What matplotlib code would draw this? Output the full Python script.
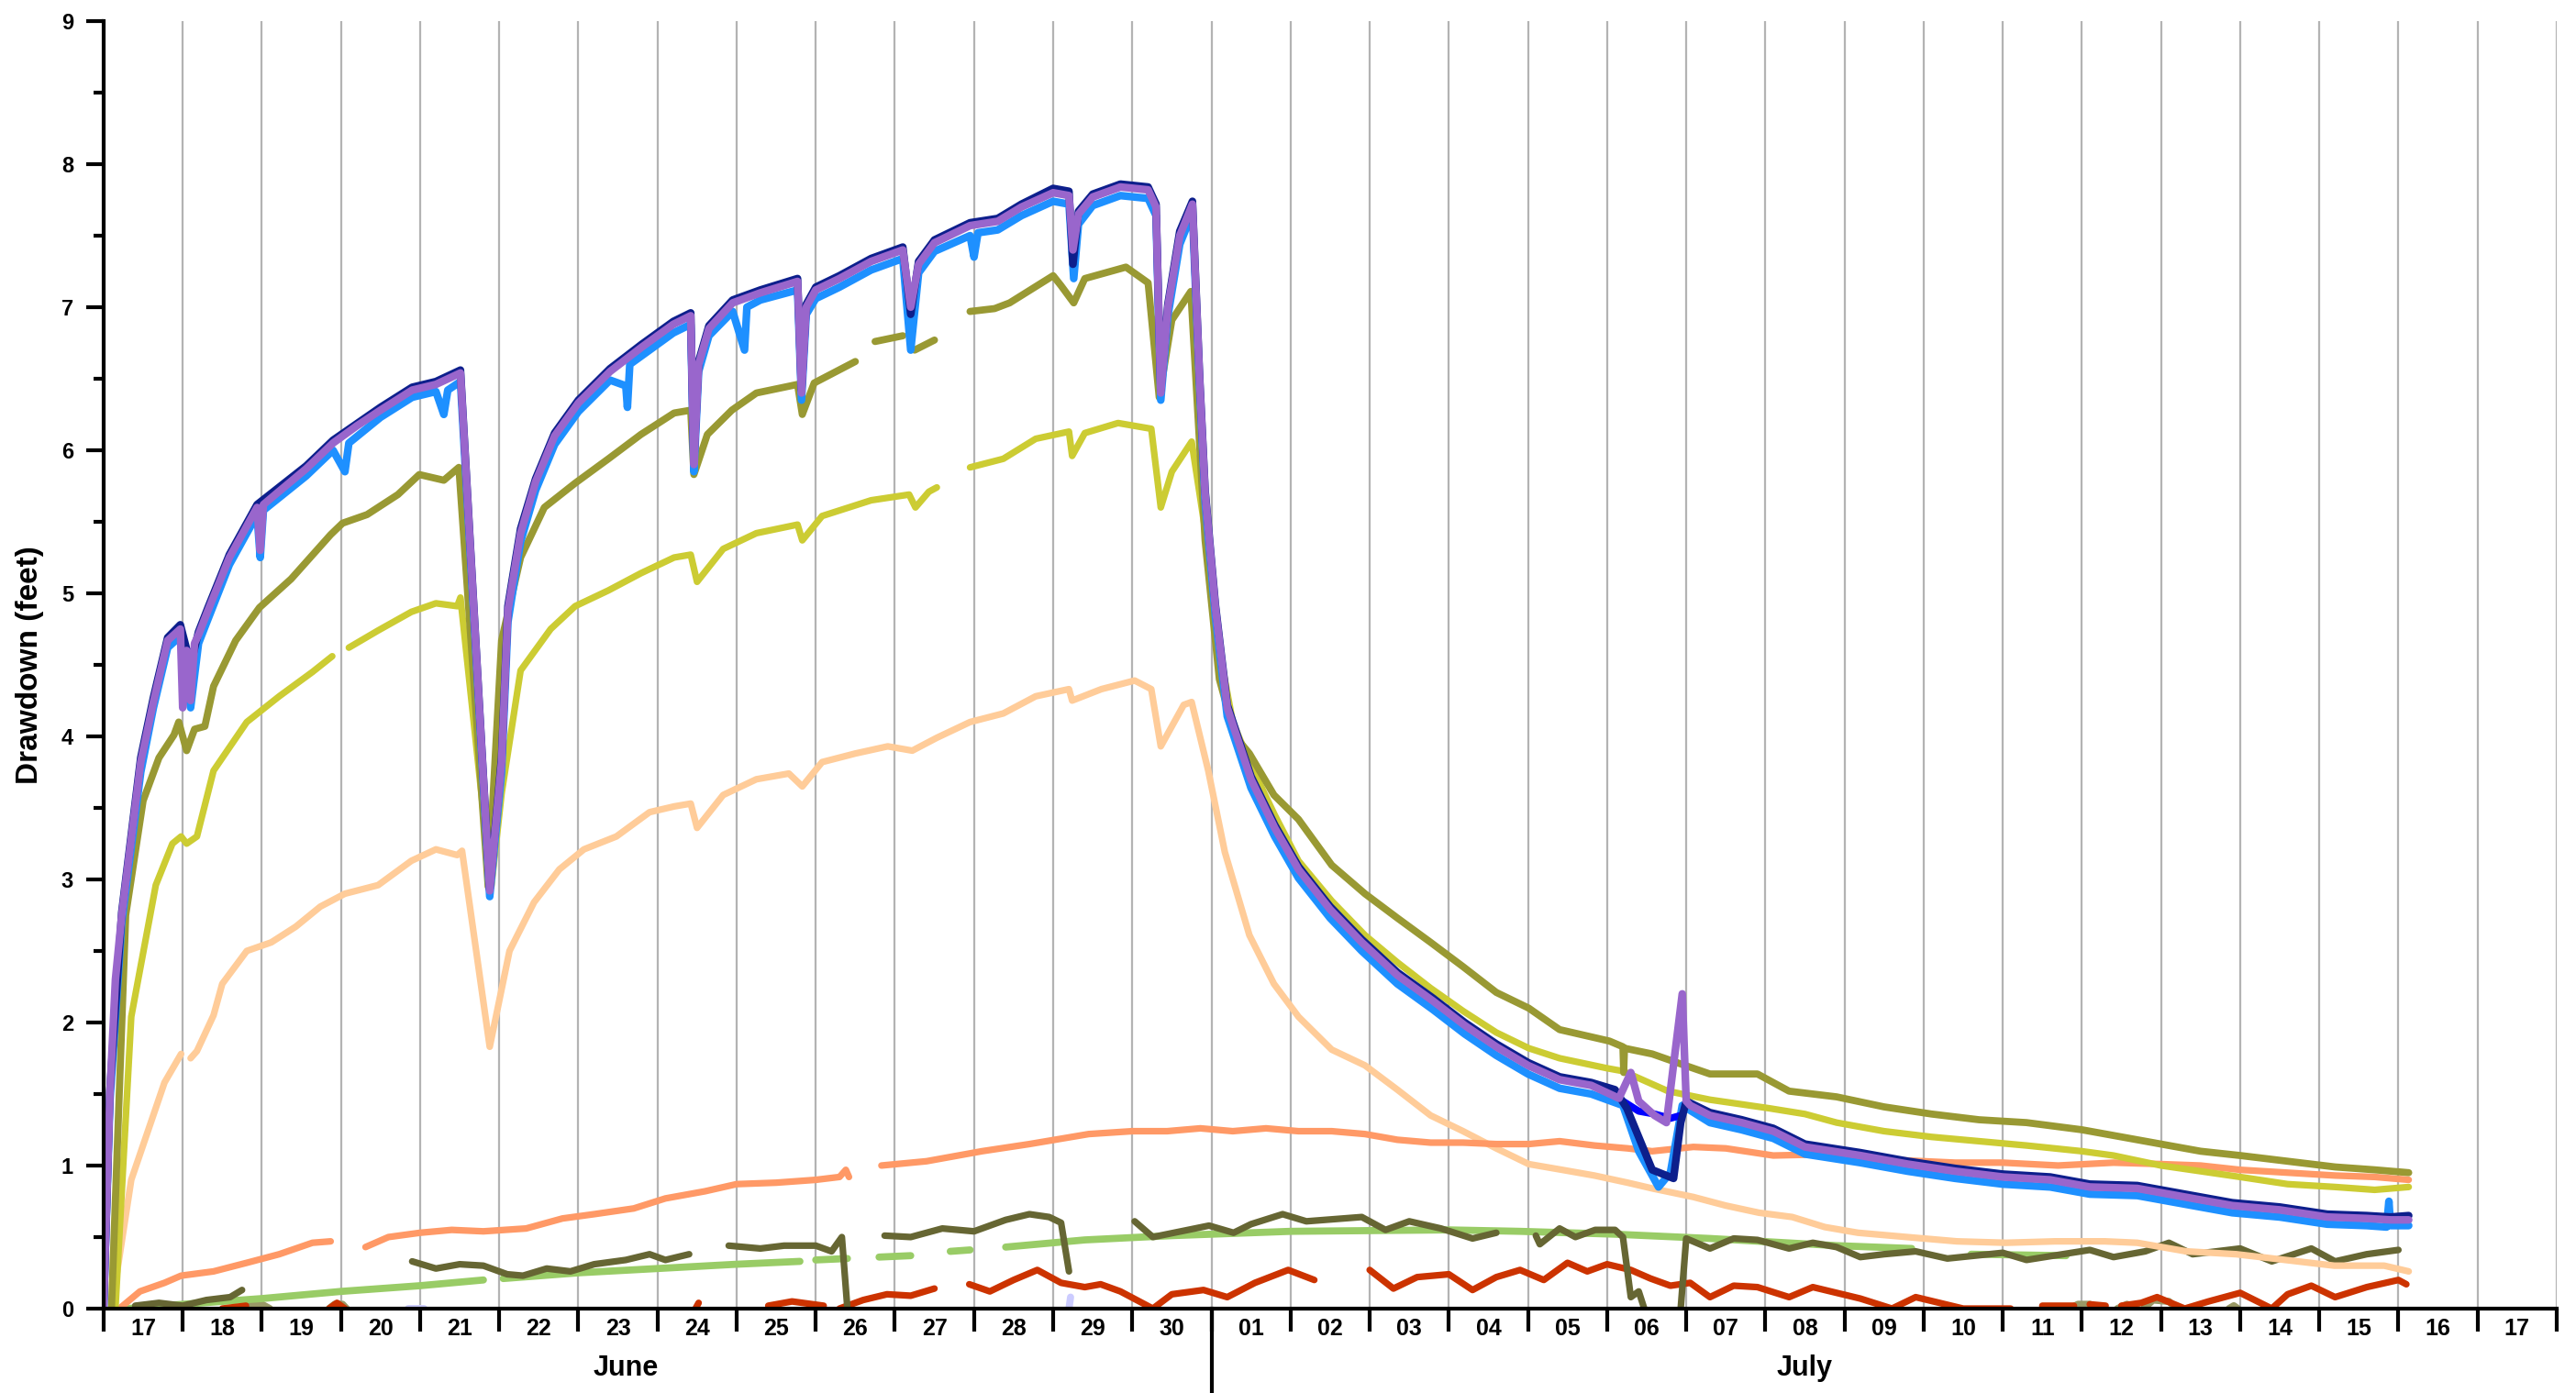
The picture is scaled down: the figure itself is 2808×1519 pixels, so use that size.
import numpy as np
import matplotlib
matplotlib.use('Agg')
import matplotlib.pyplot as plt
from matplotlib.ticker import MultipleLocator, FixedLocator, NullFormatter

nan = np.nan

# time = days since June 17 00:00, drawdown in feet
day_labels = ['17', '18', '19', '20', '21', '22', '23', '24', '25', '26', '27', '28', '29', '30',
              '01', '02', '03', '04', '05', '06', '07', '08', '09', '10', '11', '12', '13', '14',
              '15', '16', '17']
month_labels = ['June', 'July']
month_pos = [6.6, 21.5]

purple_t = [0.0, 0.08, 0.15, 0.23, 0.47, 0.63, 0.81, 0.97, 1.0, 1.05, 1.1, 1.15, 1.2, 1.32, 1.59, 1.94,
            1.98, 2.02, 2.17, 2.56, 2.9, 3.2, 3.5, 3.9, 4.2, 4.51, 4.88, 5.03, 5.11, 5.27, 5.46, 5.7,
            6.0, 6.4, 6.8, 7.2, 7.42, 7.46, 7.52, 7.65, 7.95, 8.3, 8.77, 8.82, 8.88, 9.0, 9.3, 9.7,
            10.1, 10.2, 10.3, 10.5, 10.95, 11.3, 11.6, 12.0, 12.2, 12.25, 12.32, 12.5, 12.85, 13.2,
            13.3, 13.36, 13.45, 13.6, 13.76, 13.85, 13.92, 14.05, 14.2, 14.5, 14.8, 15.1, 15.5, 15.9,
            16.35, 16.8, 17.2, 17.6, 18.0, 18.4, 18.8, 19.15, 19.3, 19.4, 19.6, 19.75, 19.95, 20.0,
            20.05, 20.3, 20.7, 21.1, 21.5, 22.2, 22.8, 23.4, 24.0, 24.6, 25.1, 25.7, 26.3, 26.9, 27.5,
            28.1, 28.6, 28.9, 29.13]
purple_y = [0.0, 1.5, 2.3, 2.75, 3.82, 4.24, 4.67, 4.75, 4.2, 4.6, 4.25, 4.65, 4.71, 4.88, 5.25, 5.6,
            5.3, 5.62, 5.69, 5.87, 6.05, 6.17, 6.28, 6.42, 6.46, 6.54, 2.92, 3.82, 4.88, 5.42, 5.78, 6.1,
            6.33, 6.55, 6.72, 6.88, 6.94, 5.9, 6.6, 6.85, 7.03, 7.1, 7.18, 6.4, 7.0, 7.12, 7.2, 7.32,
            7.4, 7.0, 7.3, 7.45, 7.57, 7.6, 7.7, 7.8, 7.78, 7.4, 7.65, 7.77, 7.84, 7.82,
            7.7, 6.4, 7.0, 7.5, 7.72, 6.5, 5.7, 4.9, 4.2, 3.7, 3.36, 3.07, 2.79, 2.56,
            2.33, 2.15, 1.98, 1.83, 1.7, 1.6, 1.56, 1.47, 1.65, 1.45, 1.35, 1.3, 2.2, 1.45,
            1.42, 1.35, 1.3, 1.24, 1.13, 1.07, 1.01, 0.96, 0.92, 0.9, 0.85, 0.84, 0.78, 0.72, 0.69,
            0.64, 0.63, 0.62, 0.62]

navy_t = [0.0, 0.08, 0.23, 0.47, 0.63, 0.81, 0.97, 1.1, 1.2, 1.32, 1.59, 1.94, 2.56, 2.9, 3.5, 3.9,
          4.2, 4.51, 4.88, 5.03, 5.11, 5.27, 5.46, 5.7, 6.0, 6.4, 6.8, 7.2, 7.42, 7.46, 7.52, 7.65,
          7.95, 8.3, 8.77, 8.82, 8.88, 9.0, 9.3, 9.7, 10.1, 10.2, 10.3, 10.5, 10.95, 11.3, 11.6, 12.0,
          12.2, 12.25, 12.32, 12.5, 12.85, 13.2, 13.3, 13.36, 13.45, 13.6, 13.76, 13.85, 13.92, 14.05,
          14.2, 14.5, 14.8, 15.1, 15.5, 15.9, 16.35, 16.8, 17.2, 17.6, 18.0, 18.4, 18.8, 19.1, 19.25,
          19.57, 19.84, 19.93, 20.0, 20.3, 20.7, 21.1, 21.5, 22.2, 22.8, 23.4, 24.0, 24.6, 25.1, 25.7,
          26.3, 26.9, 27.5, 28.1, 28.6, 28.9, 29.13]
navy_y = [0.0, 1.52, 2.77, 3.85, 4.27, 4.69, 4.78, 4.5, 4.73, 4.9, 5.27, 5.62, 5.89, 6.07, 6.3, 6.44,
          6.48, 6.56, 2.93, 3.85, 4.91, 5.45, 5.8, 6.12, 6.35, 6.57, 6.74, 6.9, 6.96, 5.92, 6.62, 6.87,
          7.05, 7.12, 7.2, 6.42, 7.02, 7.14, 7.22, 7.34, 7.42, 6.95, 7.32, 7.47, 7.59, 7.62, 7.72, 7.83,
          7.81, 7.3, 7.67, 7.79, 7.86, 7.84, 7.72, 6.42, 7.02, 7.53, 7.74, 6.52, 5.72, 4.92,
          4.22, 3.72, 3.38, 3.09, 2.81, 2.58, 2.35, 2.17, 2.0, 1.85, 1.72, 1.62, 1.58, 1.53, 1.4,
          0.97, 0.91, 1.3, 1.45, 1.37, 1.32, 1.26, 1.15, 1.09, 1.03, 0.98, 0.94, 0.92, 0.87, 0.86,
          0.8, 0.74, 0.71, 0.66, 0.65, 0.64, 0.65]

lightblue_t = [0.0, 0.08, 0.23, 0.47, 0.63, 0.81, 0.97, 1.1, 1.2, 1.32, 1.59, 1.94, 1.98, 2.02, 2.56,
               2.9, 3.05, 3.1, 3.5, 3.9, 4.2, 4.3, 4.35, 4.51, 4.88, 5.03, 5.11, 5.27, 5.46, 5.7, 6.0,
               6.4, 6.6, 6.62, 6.65, 6.8, 7.2, 7.42, 7.46, 7.52, 7.65, 7.95, 8.1, 8.13, 8.3, 8.77, 8.82,
               8.88, 9.0, 9.3, 9.7, 10.1, 10.2, 10.3, 10.5, 10.95, 11.0, 11.05, 11.3, 11.6, 12.0, 12.2,
               12.26, 12.32, 12.5, 12.85, 13.2, 13.3, 13.36, 13.45, 13.6, 13.76, 13.85, 13.92, 14.05,
               14.2, 14.5, 14.8, 15.1, 15.5, 15.9, 16.35, 16.8, 17.2, 17.6, 18.0, 18.4, 18.8, 19.2,
               19.4, 19.65, 19.8, 19.95, 20.3, 20.7, 21.1, 21.5, 22.2, 22.8, 23.4, 24.0, 24.6, 25.1,
               25.7, 26.3, 26.9, 27.5, 28.1, 28.6, 28.85, 28.88, 28.9, 29.13]
lightblue_y = [0.0, 1.45, 2.7, 3.75, 4.2, 4.62, 4.7, 4.2, 4.65, 4.82, 5.2, 5.55, 5.25, 5.58, 5.82,
               6.0, 5.85, 6.05, 6.23, 6.37, 6.41, 6.25, 6.42, 6.48, 2.88, 3.75, 4.8, 5.36, 5.72, 6.04,
               6.27, 6.49, 6.45, 6.3, 6.6, 6.66, 6.82, 6.88, 5.85, 6.55, 6.8, 6.97, 6.7, 7.0, 7.05,
               7.12, 6.35, 6.95, 7.06, 7.14, 7.26, 7.34, 6.7, 7.24, 7.39, 7.5, 7.35, 7.52, 7.54, 7.64,
               7.74, 7.72, 7.2, 7.58, 7.71, 7.78, 7.76, 7.64, 6.35, 6.94, 7.44, 7.66, 6.45, 5.64, 4.84,
               4.14, 3.64, 3.3, 3.01, 2.73, 2.5, 2.27, 2.09, 1.92, 1.77, 1.64, 1.54, 1.5, 1.42,
               1.1, 0.85, 0.95, 1.42, 1.3, 1.25, 1.19, 1.08, 1.02, 0.96, 0.91, 0.87, 0.85, 0.8,
               0.79, 0.73, 0.67, 0.64, 0.59, 0.58, 0.57, 0.75, 0.58, 0.58]

blue_t = [19.2, 19.4, 19.6, 19.8, 19.93]
blue_y = [1.45, 1.38, 1.36, 1.33, 1.35]

olive_t = [0.1, 0.28, 0.5, 0.7, 0.89, 0.95, 1.05, 1.15, 1.28, 1.39, 1.67, 1.97, 2.37, 2.87, 3.02, 3.33,
           3.72, 3.99, 4.3, 4.49, 4.86, 5.03, 5.27, 5.57, 5.96, 6.38, 6.79, 7.21, 7.42, 7.46, 7.63,
           7.94, 8.25, 8.77, 8.83, 8.98, 9.5, nan, 9.75, 10.1, nan, 10.25, 10.5, nan, 10.95, 11.26,
           11.45, 12.0, 12.1, 12.26, 12.4, 12.92, 13.2, 13.34, 13.5, 13.74, 13.92, 14.1, 14.3, 14.48,
           14.79, 15.1, 15.52, 15.94, 16.35, 16.77, 17.18, 17.6, 18.01, 18.4, 19.03, 19.2, 19.21,
           19.22, 19.57, 19.88, 20.3, 20.9, 21.3, 21.9, 22.5, 23.1, 23.7, 24.3, 25.0, 25.4, 26.0,
           26.5, 27.0, 27.6, 28.2, 28.7, 29.13]
olive_y = [0.0, 2.75, 3.55, 3.85, 4.01, 4.1, 3.9, 4.05, 4.07, 4.35, 4.67, 4.9, 5.1, 5.41, 5.49, 5.55,
           5.69, 5.83, 5.79, 5.88, 2.95, 4.67, 5.25, 5.6, 5.77, 5.94, 6.11, 6.26, 6.28, 5.83, 6.11,
           6.28, 6.4, 6.46, 6.25, 6.47, 6.62, nan, 6.76, 6.8, nan, 6.7, 6.77, nan, 6.97, 6.99,
           7.03, 7.22, 7.15, 7.03, 7.2, 7.28, 7.17, 6.37, 6.91, 7.11, 5.37, 4.4, 4.0, 3.88,
           3.59, 3.42, 3.1, 2.9, 2.73, 2.56, 2.39, 2.21, 2.1, 1.95, 1.87, 1.83, 1.65,
           1.82, 1.78, 1.72, 1.64, 1.64, 1.52, 1.48, 1.41, 1.36, 1.32, 1.3, 1.25, 1.21, 1.15,
           1.1, 1.07, 1.03, 0.99, 0.97, 0.95]

yellow_t = [0.15, 0.35, 0.66, 0.87, 0.98, 1.05, 1.18, 1.39, 1.81, 2.22, 2.64, 2.89, nan, 3.1, 3.47,
            3.89, 4.2, 4.47, 4.51, 4.9, 5.03, 5.27, 5.65, 5.96, 6.38, 6.79, 7.21, 7.42, 7.5, 7.83,
            8.25, 8.77, 8.83, 9.08, 9.7, 10.18, 10.26, 10.43, 10.53, nan, 10.95, 11.37, 11.78, 12.2,
            12.24, 12.4, 12.82, 13.24, 13.36, 13.5, 13.75, 13.96, 14.1, 14.27, 14.48, 14.8, 15.1,
            15.52, 15.94, 16.35, 16.77, 17.18, 17.6, 18.01, 18.4, 19.0, 19.2, 19.77, 20.3, 21.05,
            21.5, 21.9, 22.5, 23.1, 23.7, 24.3, 25.0, 25.4, 26.0, 26.5, 27.0, 27.6, 28.2, 28.7, 29.13]
yellow_y = [0.0, 2.04, 2.96, 3.25, 3.3, 3.25, 3.3, 3.76, 4.1, 4.28, 4.45, 4.56, nan, 4.62, 4.74,
            4.87, 4.93, 4.91, 4.97, 2.95, 3.6, 4.46, 4.75, 4.91, 5.02, 5.14, 5.25, 5.27, 5.08, 5.31,
            5.42, 5.48, 5.37, 5.54, 5.65, 5.69, 5.6, 5.71, 5.74, nan, 5.88, 5.94, 6.08, 6.13,
            5.96, 6.12, 6.19, 6.15, 5.6, 5.85, 6.06, 5.3, 4.6, 4.1, 3.82, 3.45, 3.13,
            2.85, 2.61, 2.42, 2.24, 2.08, 1.93, 1.82, 1.75, 1.68, 1.66, 1.52, 1.46, 1.4,
            1.36, 1.3, 1.24, 1.2, 1.17, 1.14, 1.1, 1.07, 1.0, 0.96, 0.92, 0.87, 0.85, 0.83, 0.85]

peach_t = [0.1, 0.35, 0.56, 0.77, 0.98, nan, 1.1, 1.18, 1.39, 1.5, 1.81, 2.12, 2.43, 2.74, 3.05,
           3.47, 3.89, 4.2, 4.47, 4.53, 4.88, 5.13, 5.44, 5.76, 6.07, 6.48, 6.9, 7.21, 7.42, 7.5,
           7.83, 8.25, 8.66, 8.83, 9.08, 9.5, 9.91, 10.22, 10.53, 10.95, 11.37, 11.78, 12.2, 12.24,
           12.61, 13.03, 13.24, 13.36, 13.65, 13.75, 13.96, 14.17, 14.48, 14.79, 15.1, 15.52, 15.94,
           16.35, 16.77, 17.18, 17.6, 18.01, 18.43, 18.84, 19.26, 19.57, 20.09, 20.5, 20.92, 21.34,
           21.75, 22.17, 22.79, 23.42, 24.04, 24.66, 25.29, 25.7, 26.32, 26.95, 27.57, 28.19, 28.82,
           29.13]
peach_y = [0.0, 0.9, 1.24, 1.58, 1.78, nan, 1.75, 1.8, 2.05, 2.27, 2.5, 2.56, 2.67, 2.81, 2.9,
           2.96, 3.13, 3.21, 3.17, 3.2, 1.83, 2.5, 2.84, 3.07, 3.21, 3.3, 3.47, 3.51, 3.53, 3.36,
           3.59, 3.7, 3.74, 3.65, 3.82, 3.88, 3.93, 3.9, 3.99, 4.1, 4.16, 4.28, 4.33, 4.25,
           4.33, 4.39, 4.33, 3.93, 4.22, 4.24, 3.76, 3.19, 2.61, 2.27, 2.04, 1.81, 1.7,
           1.53, 1.35, 1.24, 1.12, 1.01, 0.97, 0.93, 0.88, 0.84, 0.78, 0.72, 0.67, 0.64,
           0.57, 0.53, 0.5, 0.47, 0.46, 0.47, 0.47, 0.46, 0.4, 0.38, 0.34, 0.3, 0.3,
           0.26]

salmon_t = [0.2, 0.46, 0.77, 0.98, 1.39, 1.81, 2.22, 2.64, 2.87, nan, 3.31, 3.6, 4.0, 4.4, 4.8, 5.34,
            5.8, 6.2, 6.7, 7.1, 7.6, 8.0, 8.5, 9.0, 9.3, 9.38, 9.42, nan, 9.83, 10.4, 11.1, 11.7,
            12.45, 13.0, 13.44, 13.86, 14.27, 14.69, 15.1, 15.52, 15.94, 16.35, 16.77, 17.18, 17.6,
            18.01, 18.4, 18.84, 19.26, 19.57, 20.09, 20.5, 21.1, 21.9, 22.6, 23.4, 24.0, 24.7, 25.4,
            26.0, 26.5, 27.0, 27.6, 28.2, 28.7, 29.13]
salmon_y = [0.0, 0.12, 0.18, 0.23, 0.26, 0.32, 0.38, 0.46, 0.47, nan, 0.43, 0.5, 0.53, 0.55, 0.54, 0.56,
            0.63, 0.66, 0.7, 0.77, 0.82, 0.87, 0.88, 0.9, 0.92, 0.97, 0.92, nan, 1.0, 1.03, 1.1, 1.15,
            1.22, 1.24, 1.24, 1.26, 1.24, 1.26, 1.24, 1.24, 1.22, 1.18, 1.16, 1.16, 1.15,
            1.15, 1.17, 1.14, 1.12, 1.1, 1.13, 1.12, 1.07, 1.08, 1.04, 1.02, 1.02, 1.0, 1.02,
            1.01, 1.0, 0.97, 0.95, 0.93, 0.92, 0.9]

darkolive_t = [0.4, 0.7, 1.0, 1.3, 1.6, 1.75, nan, 3.9, 4.2, 4.5, 4.8, 5.1, 5.3, 5.6, 5.9, 6.2, 6.6,
               6.9, 7.1, 7.4, nan, 7.9, 8.3, 8.6, 9.0, 9.2, 9.33, 9.4, nan, 9.87, 10.2, 10.6, 11.0,
               11.4, 11.7, 11.95, 12.1, 12.2, nan, 13.03, 13.26, 13.97, 14.28, 14.5, 14.9, 15.2, 15.9,
               16.2, 16.5, 16.9, 17.3, 17.6, nan, 18.1, 18.15, 18.4, 18.6, 18.85, 19.1, 19.2, 19.3,
               19.4, 19.47, nan, 19.93, 20.0, 20.3, 20.6, 20.9, 21.3, 21.6, 21.9, 22.2, 22.5, 22.9,
               23.3, 24.0, 24.3, 25.1, 25.4, 25.8, 26.1, 26.4, 27.0, 27.4, 27.9, 28.2, 28.6, 29.0]
darkolive_y = [0.02, 0.04, 0.02, 0.06, 0.08, 0.13, nan, 0.33, 0.28, 0.31, 0.3, 0.24, 0.23, 0.28, 0.26,
               0.31, 0.34, 0.38, 0.34, 0.38, nan, 0.44, 0.42, 0.44, 0.44, 0.4, 0.5, 0.0, nan, 0.51,
               0.5, 0.56, 0.54, 0.62, 0.66, 0.64, 0.6, 0.26, nan, 0.61, 0.5, 0.58, 0.53, 0.59, 0.66,
               0.61, 0.64, 0.55, 0.61, 0.56, 0.49, 0.53, nan, 0.51, 0.45, 0.56, 0.5, 0.55, 0.55, 0.5,
               0.08, 0.12, 0.0, nan, 0.0, 0.49, 0.42, 0.49, 0.48, 0.42, 0.46, 0.43, 0.36, 0.38, 0.4,
               0.35, 0.39, 0.34, 0.41, 0.36, 0.4, 0.46, 0.38, 0.42, 0.33, 0.42, 0.33, 0.38, 0.41]

green_t = [0.3, 1.0, 2.0, 3.0, 4.0, 4.8, nan, 5.05, 6.0, 7.0, 8.0, 8.8, nan, 9.0, 9.4, nan, 9.8, 10.2,
           nan, 10.7, 10.95, nan, 11.4, 12.4, 13.5, 15.0, 17.0, 17.9, 19.1, 20.3, 21.9, 22.85, nan,
           23.6, 24.8]
green_y = [0.0, 0.03, 0.07, 0.12, 0.16, 0.2, nan, 0.21, 0.25, 0.28, 0.31, 0.33, nan, 0.34, 0.35, nan,
           0.36, 0.37, nan, 0.4, 0.41, nan, 0.43, 0.48, 0.51, 0.54, 0.55, 0.54, 0.52, 0.49, 0.44, 0.42,
           nan, 0.38, 0.37]

red_t = [1.5, 1.8, nan, 2.85, 2.95, 3.05, nan, 7.48, 7.52, nan, 8.4, 8.7, 9.1, nan, 9.3, 9.6, 9.9,
         10.2, 10.5, nan, 10.94, 11.2, 11.5, 11.8, 12.1, 12.4, 12.6, 12.85, 13.26, 13.5, 13.9, 14.2,
         14.55, 14.97, 15.3, nan, 16.0, 16.3, 16.6, 17.0, 17.3, 17.6, 17.9, 18.2, 18.5, 18.75, 19.0,
         19.3, 19.55, 19.8, 20.05, 20.3, 20.6, 20.9, 21.3, 21.6, 21.9, 22.2, 22.6, 22.9, 23.5, 24.1,
         nan, 24.5, 24.9, nan, 25.1, 25.3, nan, 25.5, 25.75, 25.95, 26.3, 26.6, 27.0, 27.4, 27.6,
         27.9, 28.2, 28.6, 29.0, 29.1]
red_y = [0.0, 0.02, nan, 0.0, 0.04, 0.0, nan, 0.0, 0.04, nan, 0.02, 0.05, 0.02, nan, 0.0, 0.06, 0.1,
         0.09, 0.14, nan, 0.17, 0.12, 0.2, 0.27, 0.18, 0.15, 0.17, 0.12, 0.0, 0.1, 0.13, 0.08,
         0.18, 0.27, 0.2, nan, 0.27, 0.14, 0.22, 0.24, 0.13, 0.22, 0.27, 0.2, 0.32, 0.26, 0.31,
         0.27, 0.21, 0.16, 0.18, 0.08, 0.16, 0.15, 0.08, 0.15, 0.11, 0.07, 0.0, 0.08, 0.0, 0.0,
         nan, 0.02, 0.02, nan, 0.03, 0.02, nan, 0.02, 0.04, 0.08, 0.0, 0.05, 0.11, 0.0, 0.1,
         0.16, 0.08, 0.15, 0.2, 0.17]

khaki_t = [1.77, 1.85, 2.0, 2.1, nan, 2.85, 2.92, 3.02, 3.07, nan, 24.85, 24.95, 25.1, 25.15, nan,
           25.45, 25.57, 25.7, nan, 25.78, 25.9, 26.1, 26.2, nan, 26.86, 26.92, 26.97]
khaki_y = [0.0, 0.03, 0.03, 0.0, nan, 0.0, 0.03, 0.03, 0.0, nan, 0.0, 0.03, 0.03, 0.0, nan,
           0.0, 0.03, 0.0, nan, 0.0, 0.06, 0.05, 0.0, nan, 0.0, 0.02, 0.0]

lavender_t = [3.85, 4.05, nan, 12.2, 12.22]
lavender_y = [0.0, 0.0, nan, 0.0, 0.08]

plt.rcParams['font.family'] = ['Liberation Sans', 'DejaVu Sans']

fig = plt.figure(figsize=(14.04, 7.595), dpi=200)
ax = fig.add_axes([0.0402, 0.0606, 0.9523, 0.9243])


def draw(t, y, color, lw):
    ax.plot(t, y, color=color, lw=lw, solid_capstyle='round', solid_joinstyle='round', zorder=3)


draw(lavender_t, lavender_y, '#ccccff', 2.8)
draw(khaki_t, khaki_y, '#999966', 2.8)
draw(green_t, green_y, '#99cc66', 2.8)
draw(red_t, red_y, '#cc3300', 2.6)
draw(darkolive_t, darkolive_y, '#666633', 2.6)
draw(peach_t, peach_y, '#ffcc99', 2.6)
draw(salmon_t, salmon_y, '#ff9966', 2.6)
draw(yellow_t, yellow_y, '#cccc33', 2.6)
draw(olive_t, olive_y, '#999933', 2.8)
draw(lightblue_t, lightblue_y, '#1e90ff', 3.0)
draw(blue_t, blue_y, '#0000ff', 2.8)
draw(navy_t, navy_y, '#0d1f8c', 3.0)
draw(purple_t, purple_y, '#9966cc', 3.0)

ax.set_xlim(0, 31)
ax.set_ylim(0, 9)

ax.spines['top'].set_visible(False)
ax.spines['right'].set_visible(False)
for s in ['left', 'bottom']:
    ax.spines[s].set_linewidth(1.5)
    ax.spines[s].set_zorder(5)

ax.yaxis.set_major_locator(MultipleLocator(1))
ax.yaxis.set_minor_locator(MultipleLocator(0.5))
ax.tick_params(axis='y', which='major', length=6.8, width=1.5, pad=5, labelsize=8.5)
ax.tick_params(axis='y', which='minor', length=4, width=1.5)
for lab in ax.get_yticklabels():
    lab.set_fontweight('bold')

ax.xaxis.set_major_locator(FixedLocator(np.arange(0, 32)))
ax.xaxis.set_major_formatter(NullFormatter())
ax.xaxis.set_minor_locator(FixedLocator(np.arange(0.5, 31, 1.0)))
ax.set_xticklabels(day_labels, minor=True, fontweight='bold')
ax.tick_params(axis='x', which='major', length=9, width=1.5, direction='out')
ax.tick_params(axis='x', which='minor', length=0, pad=3.5, labelsize=9)

ax.grid(axis='x', which='major', color='#b3b3b3', lw=0.8, zorder=0)

# month divider between June 30 and July 01
ax.plot([14, 14], [0, -0.066], transform=ax.get_xaxis_transform(), color='black', lw=1.5,
        clip_on=False)
for pos, name in zip(month_pos, month_labels):
    ax.text(pos, -0.046, name, transform=ax.get_xaxis_transform(), ha='center', va='center',
            fontsize=11, fontweight='bold')

fig.text(0.0114, 0.5227, 'Drawdown (feet)', rotation=90, ha='center', va='center',
         fontsize=12, fontweight='bold')

fig.savefig('out.png', dpi=200)
